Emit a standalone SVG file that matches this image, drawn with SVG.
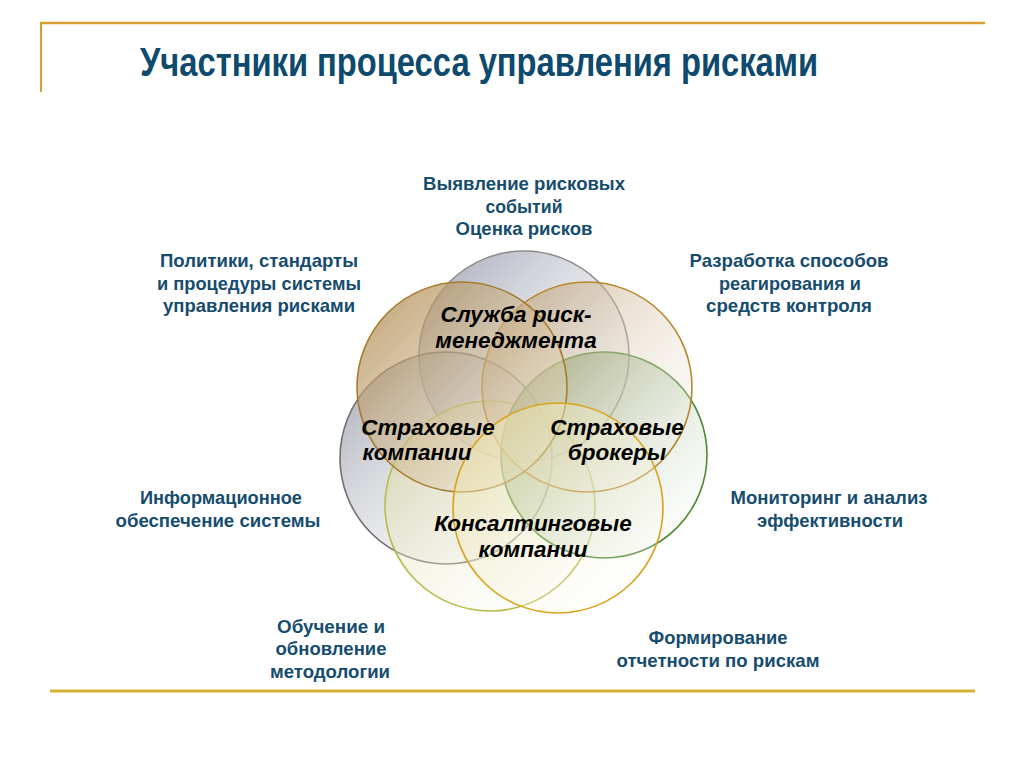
<svg xmlns="http://www.w3.org/2000/svg" width="1024" height="767" viewBox="0 0 1024 767">
<defs>
<style>
.title{font-family:"Liberation Sans Narrow","Liberation Sans",Arial,sans-serif;font-weight:bold;font-size:41px;fill:#0d4a6e;}
.lbl{font-family:"Liberation Sans Narrow","Liberation Sans",Arial,sans-serif;font-weight:bold;font-size:18.5px;fill:#164c6e;text-anchor:middle;}
.in{font-family:"Liberation Sans",Arial,sans-serif;font-weight:bold;font-style:italic;font-size:22.5px;fill:#000;text-anchor:middle;}
.c{stroke-width:1.6;}
</style>
<linearGradient id="gTop" x1="0" y1="0" x2="1" y2="1"><stop offset="0" stop-color="#8f95a6" stop-opacity="0.85"/><stop offset="1" stop-color="#ffffff" stop-opacity="0.1"/></linearGradient>
<linearGradient id="gTL" x1="0" y1="0" x2="1" y2="1"><stop offset="0" stop-color="#aa8448" stop-opacity="0.8"/><stop offset="1" stop-color="#f4ead8" stop-opacity="0.3"/></linearGradient>
<linearGradient id="gTR" x1="0" y1="0" x2="1" y2="1"><stop offset="0" stop-color="#b89868" stop-opacity="0.7"/><stop offset="1" stop-color="#ffffff" stop-opacity="0.15"/></linearGradient>
<linearGradient id="gL" x1="0" y1="0" x2="1" y2="1"><stop offset="0" stop-color="#8a8e9c" stop-opacity="0.8"/><stop offset="1" stop-color="#ffffff" stop-opacity="0.1"/></linearGradient>
<linearGradient id="gR" x1="0" y1="0" x2="1" y2="1"><stop offset="0" stop-color="#5f8d4c" stop-opacity="0.8"/><stop offset="1" stop-color="#ffffff" stop-opacity="0.1"/></linearGradient>
<linearGradient id="gBL" x1="0" y1="0" x2="1" y2="1"><stop offset="0" stop-color="#d8d49a" stop-opacity="0.7"/><stop offset="1" stop-color="#ffffff" stop-opacity="0.1"/></linearGradient>
<linearGradient id="gBR" x1="0" y1="0" x2="1" y2="1"><stop offset="0" stop-color="#e6dc9c" stop-opacity="0.65"/><stop offset="1" stop-color="#ffffff" stop-opacity="0.1"/></linearGradient>
</defs>
<rect x="0" y="0" width="1024" height="767" fill="#ffffff"/>
<g id="frame">
<line x1="40" y1="23" x2="985" y2="23" stroke="#d9a030" stroke-width="2.5"/>
<line x1="41" y1="22" x2="41" y2="92" stroke="#d9a030" stroke-width="2"/>
<line x1="50" y1="691" x2="975" y2="691" stroke="#d6b232" stroke-width="3"/>
</g>
<text class="title" x="140" y="76" textLength="678" lengthAdjust="spacingAndGlyphs">Участники процесса управления рисками</text>
<g id="circles">
<g id="c-top"><circle class="c" cx="524" cy="356" r="105" fill="url(#gTop)" stroke="#8c8c8c"/></g>
<g id="c-left"><circle class="c" cx="446" cy="458" r="106" fill="url(#gL)" stroke="#6f6f6f"/></g>
<g id="c-bottomleft"><circle class="c" cx="490" cy="506" r="105" fill="url(#gBL)" stroke="#b4bc4c"/></g>
<g id="c-right"><circle class="c" cx="604" cy="455" r="103" fill="url(#gR)" stroke="#4e8a35"/></g>
<g id="c-topright"><circle class="c" cx="587" cy="387" r="105" fill="url(#gTR)" stroke="#b8862b"/></g>
<g id="c-topleft"><circle class="c" cx="462" cy="387" r="105" fill="url(#gTL)" stroke="#a67c2e"/></g>
<g id="c-bottomright"><circle class="c" cx="558" cy="508" r="105" fill="url(#gBR)" stroke="#d9a21c"/></g>
</g>
<g id="inner-labels">
<g id="n-service"><text class="in" x="516" y="322">Служба риск-</text><text class="in" x="516" y="348">менеджмента</text></g>
<g id="n-insurers"><text class="in" x="428" y="435">Страховые</text><text class="in" x="417" y="460">компании</text></g>
<g id="n-brokers"><text class="in" x="617" y="435">Страховые</text><text class="in" x="617" y="460">брокеры</text></g>
<g id="n-consult"><text class="in" x="533" y="531">Консалтинговые</text><text class="in" x="533" y="557">компании</text></g>
</g>
<g id="outer-labels">
<g id="l-top"><text class="lbl" x="524" y="190" textLength="202" lengthAdjust="spacingAndGlyphs">Выявление рисковых</text><text class="lbl" x="524" y="213" textLength="77" lengthAdjust="spacingAndGlyphs">событий</text><text class="lbl" x="524" y="235" textLength="137" lengthAdjust="spacingAndGlyphs">Оценка рисков</text></g>
<g id="l-topleft"><text class="lbl" x="259" y="267" textLength="198" lengthAdjust="spacingAndGlyphs">Политики, стандарты</text><text class="lbl" x="259" y="290" textLength="204" lengthAdjust="spacingAndGlyphs">и процедуры системы</text><text class="lbl" x="259" y="312" textLength="192" lengthAdjust="spacingAndGlyphs">управления рисками</text></g>
<g id="l-topright"><text class="lbl" x="789" y="267" textLength="199" lengthAdjust="spacingAndGlyphs">Разработка способов</text><text class="lbl" x="790" y="290" textLength="142" lengthAdjust="spacingAndGlyphs">реагирования и</text><text class="lbl" x="789" y="312" textLength="166" lengthAdjust="spacingAndGlyphs">средств контроля</text></g>
<g id="l-left"><text class="lbl" x="221" y="504" textLength="162" lengthAdjust="spacingAndGlyphs">Информационное</text><text class="lbl" x="218" y="527" textLength="205" lengthAdjust="spacingAndGlyphs">обеспечение системы</text></g>
<g id="l-right"><text class="lbl" x="829" y="504" textLength="197" lengthAdjust="spacingAndGlyphs">Мониторинг и анализ</text><text class="lbl" x="830" y="527" textLength="146" lengthAdjust="spacingAndGlyphs">эффективности</text></g>
<g id="l-bottomleft"><text class="lbl" x="331" y="633" textLength="108" lengthAdjust="spacingAndGlyphs">Обучение и</text><text class="lbl" x="331" y="655" textLength="111" lengthAdjust="spacingAndGlyphs">обновление</text><text class="lbl" x="330" y="678" textLength="120" lengthAdjust="spacingAndGlyphs">методологии</text></g>
<g id="l-bottomright"><text class="lbl" x="718" y="644" textLength="139" lengthAdjust="spacingAndGlyphs">Формирование</text><text class="lbl" x="718" y="667" textLength="203" lengthAdjust="spacingAndGlyphs">отчетности по рискам</text></g>
</g>
</svg>
